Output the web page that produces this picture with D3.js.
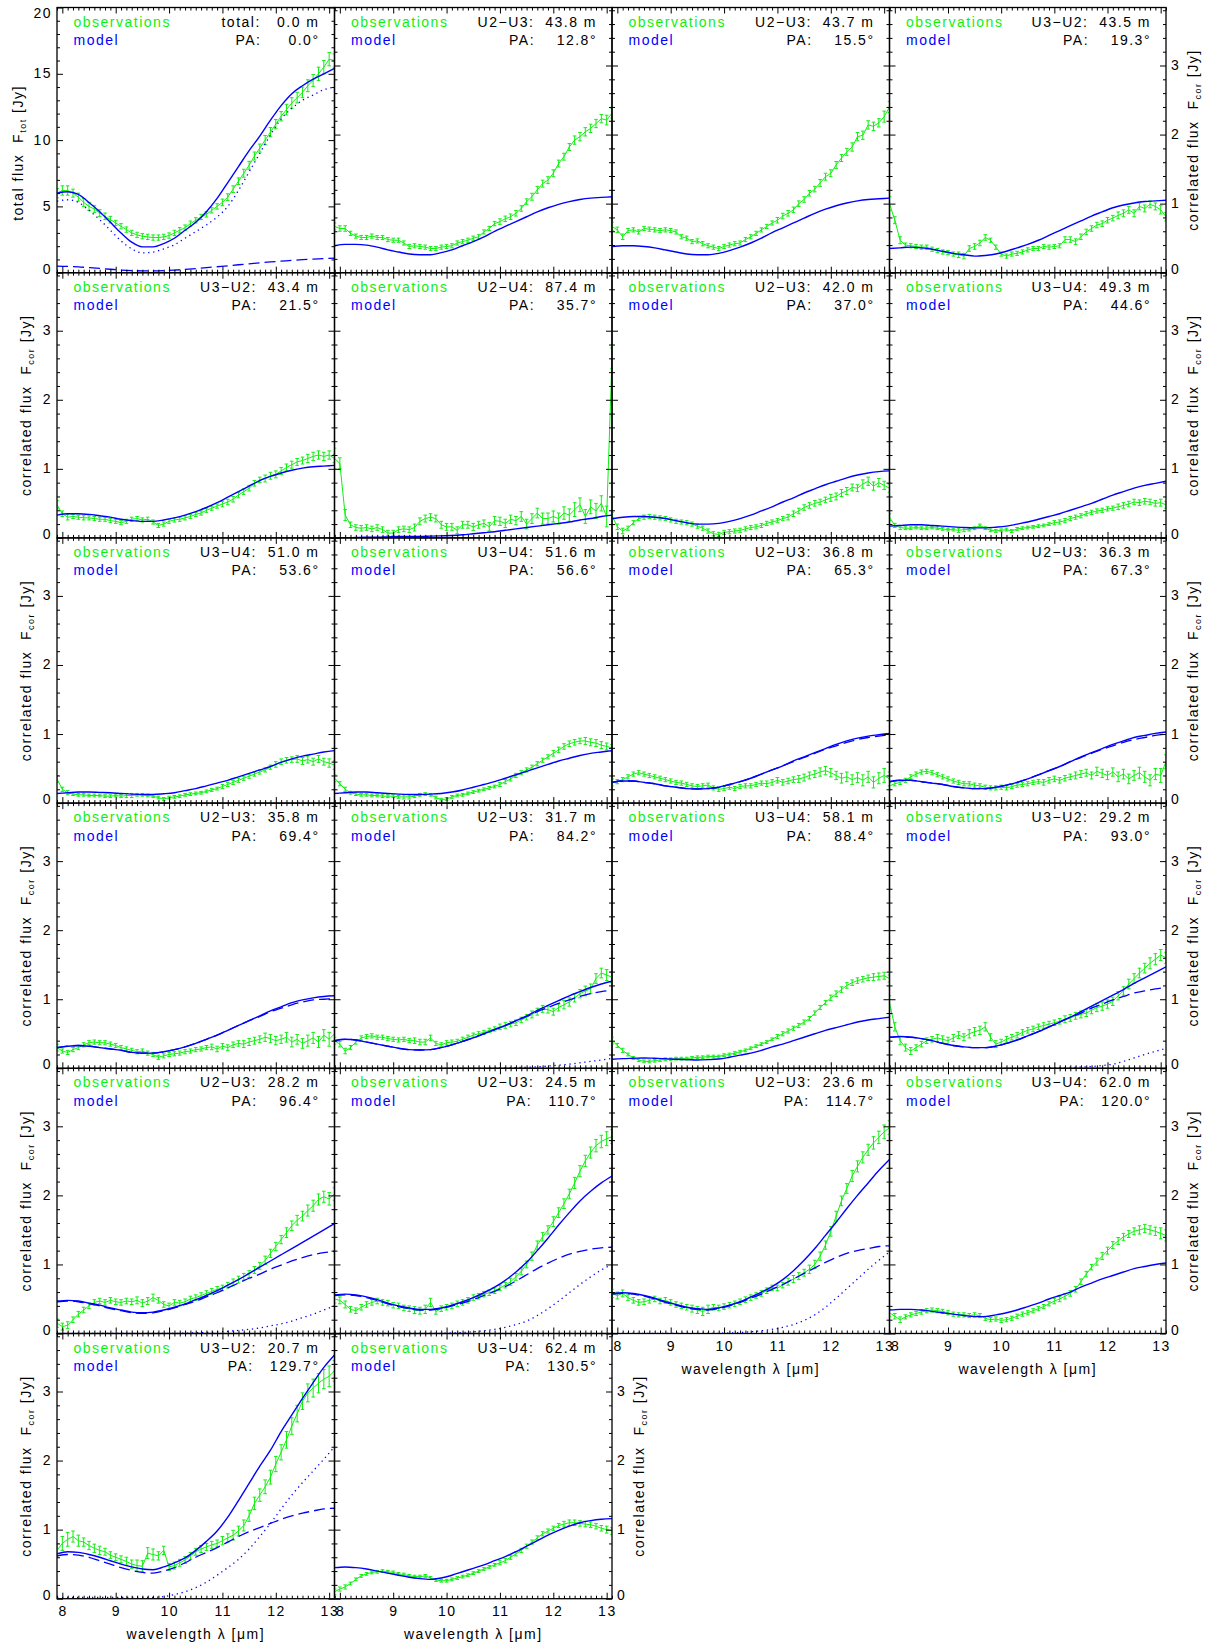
<!DOCTYPE html>
<html><head><meta charset="utf-8">
<script src="https://cdn.jsdelivr.net/npm/d3@7"></script>
<style>body{margin:0;background:#fff}svg{display:block}text{font-family:"Liberation Sans",Arial,Helvetica,sans-serif}</style>
</head><body>
<script>
// ---------- wavelength grids (µm) ----------
const wlObs = [7.9,8.0,8.1,8.2,8.3,8.4,8.5,8.6,8.7,8.8, 8.9,9.0,9.1,9.2,9.3,9.4,9.5,9.6,9.7,9.8, 9.9,10.0,10.1,10.2,10.3,10.4,10.5,10.6,10.7,10.8, 10.9,11.0,11.1,11.2,11.3,11.4,11.5,11.6,11.7,11.8, 11.9,12.0,12.1,12.2,12.3,12.4,12.5,12.6,12.7,12.8, 12.9,13.0,13.1];
const wlModel = [7.9,8.1,8.3,8.5,8.7,8.9,9.1,9.3,9.5,9.7,9.9,10.1,10.3,10.5,10.7,10.9,11.1,11.3,11.5,11.7,11.9,12.1,12.3,12.5,12.7,12.9,13.1];

// ---------- panel labels ----------
const pairs = ["total","U2−U3","U2−U3","U3−U2","U3−U2","U2−U4","U2−U3","U3−U4","U3−U4","U3−U4","U2−U3","U2−U3","U2−U3","U2−U3","U3−U4","U3−U2","U2−U3","U2−U3","U2−U3","U3−U4","U3−U2","U3−U4"];
const baselineLength = [0.0,43.8,43.7,43.5,43.4,87.4,42.0,49.3,51.0,51.6,36.8,36.3,35.8,31.7,58.1,29.2,28.2,24.5,23.6,62.0,20.7,62.4];
const positionAngle = [0.0,12.8,15.5,19.3,21.5,35.7,37.0,44.6,53.6,56.6,65.3,67.3,69.4,84.2,88.4,93.0,96.4,110.7,114.7,120.0,129.7,130.5];

// ---------- tick labels ----------
const xTickLabels = [8,9,10,11,12,13];
const totTickLabels = [0,5,10,15,20];
const corTickLabels = [0,1,2,3];

// ---------- observations (Jy) on wlObs ----------
const obs01 = [6.0,6.2,6.2,6.0,5.7,5.3,5.0,4.8,4.5,4.25, 4.0,3.75,3.5,3.25,3.0,2.85,2.75,2.7,2.65,2.65, 2.7,2.8,3.0,3.2,3.4,3.7,3.95,4.2,4.4,4.7, 5.0,5.3,5.7,6.3,6.9,7.5,8.1,8.8,9.4,10.0, 10.6,11.2,11.8,12.3,12.8,13.2,13.6,14.1,14.5,15.0, 15.5,16.1,16.0];
const obs02 = [0.67,0.64,0.64,0.57,0.53,0.51,0.51,0.53,0.51,0.51, 0.48,0.47,0.47,0.43,0.38,0.39,0.38,0.37,0.35,0.35, 0.37,0.38,0.39,0.43,0.45,0.47,0.50,0.52,0.59,0.64, 0.71,0.74,0.78,0.81,0.86,0.93,1.03,1.10,1.20,1.29, 1.34,1.44,1.58,1.68,1.82,1.92,1.97,2.04,2.09,2.16, 2.23,2.21,2.31];
const obs03 = [0.67,0.62,0.52,0.61,0.62,0.59,0.64,0.63,0.62,0.61, 0.62,0.61,0.59,0.52,0.50,0.45,0.46,0.42,0.39,0.37, 0.35,0.38,0.40,0.42,0.43,0.48,0.52,0.57,0.62,0.67, 0.72,0.76,0.82,0.86,0.91,1.00,1.06,1.15,1.21,1.30, 1.39,1.44,1.56,1.66,1.75,1.82,1.97,1.99,2.14,2.12, 2.17,2.26,2.40];
const obs04 = [1.00,0.76,0.47,0.40,0.39,0.38,0.37,0.37,0.34,0.32, 0.30,0.29,0.27,0.26,0.24,0.35,0.38,0.43,0.51,0.47, 0.37,0.27,0.24,0.27,0.28,0.30,0.33,0.35,0.35,0.38, 0.37,0.38,0.39,0.48,0.48,0.45,0.52,0.59,0.64,0.69, 0.71,0.76,0.79,0.83,0.86,0.91,0.86,0.96,0.93,0.99, 0.96,0.91,0.81];
const obs05 = [0.48,0.35,0.30,0.31,0.30,0.29,0.29,0.28,0.27,0.27, 0.25,0.24,0.22,0.24,0.27,0.28,0.26,0.27,0.23,0.18, 0.20,0.24,0.26,0.27,0.29,0.31,0.34,0.36,0.40,0.43, 0.46,0.49,0.52,0.56,0.62,0.67,0.72,0.79,0.84,0.86, 0.90,0.92,0.97,1.02,1.06,1.10,1.12,1.15,1.18,1.20, 1.18,1.20,1.15];
const obs06 = [1.15,1.08,0.33,0.19,0.15,0.14,0.15,0.13,0.15,0.12, 0.07,0.07,0.12,0.13,0.12,0.15,0.24,0.28,0.30,0.28, 0.19,0.16,0.16,0.11,0.19,0.19,0.16,0.19,0.21,0.16, 0.25,0.24,0.21,0.27,0.25,0.31,0.20,0.28,0.36,0.28, 0.28,0.31,0.28,0.36,0.33,0.41,0.48,0.31,0.45,0.39, 0.50,0.31,2.60];
const obs07 = [0.32,0.16,0.10,0.14,0.22,0.28,0.30,0.31,0.30,0.29, 0.28,0.26,0.24,0.23,0.22,0.20,0.17,0.14,0.10,0.06, 0.05,0.08,0.09,0.10,0.11,0.13,0.15,0.16,0.18,0.21, 0.23,0.25,0.28,0.30,0.35,0.39,0.44,0.47,0.50,0.52, 0.55,0.58,0.60,0.65,0.68,0.73,0.72,0.78,0.82,0.75, 0.80,0.76,0.72];
const obs08 = [0.30,0.18,0.15,0.14,0.14,0.15,0.14,0.14,0.15,0.14, 0.13,0.12,0.12,0.11,0.12,0.12,0.14,0.18,0.14,0.11, 0.10,0.11,0.12,0.10,0.13,0.14,0.15,0.16,0.17,0.18, 0.20,0.22,0.23,0.25,0.28,0.30,0.32,0.35,0.37,0.39, 0.40,0.42,0.43,0.45,0.47,0.49,0.52,0.51,0.53,0.52, 0.50,0.51,0.48];
const obs09 = [0.35,0.20,0.15,0.13,0.12,0.12,0.11,0.11,0.11,0.10, 0.10,0.11,0.10,0.11,0.11,0.12,0.12,0.11,0.10,0.08, 0.06,0.08,0.09,0.10,0.12,0.13,0.14,0.15,0.17,0.19, 0.21,0.24,0.27,0.30,0.33,0.36,0.39,0.42,0.45,0.48, 0.52,0.56,0.60,0.62,0.63,0.64,0.61,0.63,0.60,0.64, 0.60,0.58,0.55];
const obs10 = [0.36,0.28,0.20,0.15,0.13,0.12,0.12,0.11,0.11,0.10, 0.10,0.10,0.09,0.09,0.09,0.10,0.12,0.13,0.12,0.08, 0.05,0.06,0.09,0.11,0.12,0.14,0.16,0.18,0.20,0.22, 0.24,0.27,0.31,0.35,0.40,0.44,0.48,0.52,0.57,0.62, 0.67,0.72,0.77,0.82,0.86,0.88,0.90,0.90,0.88,0.87, 0.84,0.82,0.80];
const obs11 = [0.30,0.31,0.34,0.38,0.42,0.44,0.42,0.40,0.38,0.36, 0.34,0.32,0.30,0.29,0.27,0.25,0.24,0.25,0.26,0.22, 0.20,0.21,0.23,0.21,0.24,0.25,0.25,0.27,0.29,0.28, 0.30,0.33,0.30,0.32,0.34,0.35,0.37,0.40,0.42,0.45, 0.47,0.44,0.40,0.36,0.38,0.34,0.37,0.33,0.38,0.30, 0.36,0.40,0.35];
const obs12 = [0.25,0.28,0.30,0.33,0.38,0.42,0.45,0.46,0.44,0.41, 0.38,0.35,0.32,0.30,0.28,0.28,0.26,0.25,0.23,0.22, 0.22,0.23,0.22,0.24,0.26,0.27,0.28,0.30,0.31,0.30, 0.33,0.35,0.33,0.36,0.38,0.40,0.42,0.44,0.40,0.46, 0.43,0.40,0.45,0.38,0.42,0.35,0.40,0.44,0.38,0.33, 0.42,0.40,0.60];
const obs13 = [0.30,0.25,0.23,0.27,0.30,0.34,0.37,0.38,0.37,0.37, 0.35,0.33,0.30,0.28,0.26,0.24,0.25,0.22,0.20,0.16, 0.18,0.20,0.21,0.22,0.24,0.25,0.27,0.28,0.30,0.31, 0.28,0.32,0.30,0.34,0.36,0.35,0.38,0.40,0.42,0.45, 0.43,0.40,0.42,0.45,0.38,0.42,0.36,0.40,0.44,0.38, 0.48,0.42,0.50];
const obs14 = [0.40,0.35,0.25,0.30,0.38,0.44,0.46,0.47,0.45,0.45, 0.43,0.42,0.41,0.42,0.40,0.40,0.38,0.38,0.44,0.36, 0.34,0.37,0.38,0.39,0.42,0.45,0.48,0.50,0.52,0.55, 0.57,0.60,0.62,0.64,0.66,0.70,0.74,0.78,0.82,0.86, 0.85,0.82,0.88,0.92,0.96,1.02,1.08,1.12,1.15,1.30, 1.38,1.35,1.32];
const obs15 = [0.40,0.33,0.26,0.20,0.15,0.12,0.10,0.10,0.11,0.12, 0.13,0.13,0.14,0.14,0.14,0.15,0.16,0.16,0.17,0.17, 0.17,0.19,0.20,0.22,0.24,0.26,0.29,0.32,0.35,0.38, 0.42,0.46,0.50,0.54,0.58,0.62,0.67,0.72,0.80,0.88, 0.95,1.02,1.08,1.14,1.20,1.24,1.27,1.29,1.31,1.32, 1.33,1.34,1.30];
const obs16 = [0.95,0.60,0.40,0.30,0.25,0.30,0.35,0.40,0.42,0.44, 0.42,0.40,0.44,0.48,0.45,0.50,0.53,0.55,0.60,0.45, 0.35,0.38,0.42,0.45,0.48,0.52,0.55,0.57,0.60,0.62, 0.64,0.66,0.68,0.71,0.73,0.76,0.78,0.80,0.84,0.88, 0.90,0.93,0.97,1.05,1.12,1.22,1.30,1.38,1.45,1.52, 1.58,1.64,1.60];
const obs17 = [0.15,0.10,0.12,0.20,0.28,0.34,0.40,0.45,0.47,0.45, 0.48,0.46,0.45,0.47,0.46,0.48,0.44,0.47,0.52,0.48, 0.42,0.40,0.45,0.44,0.46,0.50,0.52,0.55,0.58,0.61, 0.64,0.66,0.70,0.74,0.78,0.82,0.86,0.92,0.98,1.06, 1.16,1.26,1.36,1.46,1.56,1.64,1.70,1.78,1.85,1.94, 1.98,1.95,2.02];
const obs18 = [0.50,0.48,0.42,0.35,0.33,0.38,0.42,0.45,0.47,0.45, 0.44,0.41,0.40,0.37,0.36,0.34,0.33,0.35,0.45,0.32, 0.36,0.38,0.40,0.43,0.45,0.48,0.52,0.54,0.57,0.59, 0.62,0.66,0.70,0.75,0.82,0.90,1.00,1.12,1.28,1.40, 1.50,1.62,1.75,1.88,2.02,2.18,2.35,2.50,2.62,2.72, 2.78,2.82,2.85];
const obs19 = [0.58,0.55,0.58,0.52,0.48,0.45,0.46,0.48,0.50,0.47, 0.48,0.45,0.42,0.40,0.38,0.36,0.34,0.32,0.35,0.38, 0.37,0.39,0.41,0.43,0.46,0.49,0.52,0.55,0.58,0.62, 0.66,0.66,0.70,0.75,0.79,0.83,0.88,0.93,1.00,1.12, 1.28,1.48,1.70,1.92,2.10,2.28,2.42,2.55,2.66,2.76, 2.84,2.92,2.98];
const obs20 = [0.30,0.25,0.20,0.24,0.27,0.29,0.31,0.33,0.34,0.33, 0.32,0.30,0.28,0.27,0.27,0.26,0.27,0.26,0.22,0.20, 0.21,0.19,0.20,0.22,0.25,0.28,0.30,0.33,0.36,0.39, 0.43,0.47,0.50,0.54,0.58,0.64,0.75,0.86,0.96,1.04, 1.12,1.20,1.28,1.34,1.40,1.44,1.48,1.50,1.52,1.50, 1.48,1.45,1.42];
const obs21 = [0.70,0.80,0.86,0.90,0.84,0.82,0.77,0.73,0.70,0.68, 0.63,0.60,0.57,0.54,0.50,0.48,0.47,0.66,0.64,0.62, 0.70,0.46,0.48,0.52,0.56,0.62,0.68,0.72,0.75,0.78, 0.80,0.84,0.88,0.92,0.98,1.06,1.20,1.38,1.50,1.62, 1.76,1.95,2.12,2.30,2.50,2.68,2.86,2.98,3.05,3.12, 3.18,3.22,3.30];
const obs22 = [0.10,0.14,0.17,0.22,0.28,0.33,0.36,0.38,0.39,0.40, 0.39,0.38,0.36,0.35,0.33,0.32,0.32,0.33,0.30,0.27, 0.26,0.26,0.28,0.30,0.32,0.34,0.37,0.40,0.43,0.46, 0.49,0.52,0.55,0.60,0.65,0.70,0.76,0.82,0.88,0.94, 0.98,1.02,1.06,1.08,1.10,1.10,1.09,1.08,1.07,1.05, 1.02,1.00,0.98];

// ---------- observation errors (Jy), one value per 0.2 µm band (wlModel) ----------
const err01 = [0.35,0.35,0.3,0.3,0.25,0.25,0.2,0.2,0.2,0.2,0.2,0.2,0.2,0.2,0.2,0.2,0.25,0.25,0.3,0.3,0.35,0.35,0.4,0.4,0.45,0.5,0.5];
const err02 = [0.05,0.04,0.03,0.03,0.03,0.03,0.03,0.03,0.03,0.03,0.03,0.03,0.03,0.03,0.03,0.03,0.04,0.04,0.04,0.05,0.05,0.05,0.05,0.06,0.06,0.06,0.07];
const err03 = [0.06,0.04,0.03,0.03,0.03,0.03,0.03,0.03,0.03,0.03,0.03,0.03,0.03,0.03,0.03,0.03,0.04,0.04,0.04,0.04,0.05,0.05,0.05,0.06,0.06,0.06,0.08];
const err04 = [0.1,0.05,0.03,0.03,0.03,0.03,0.03,0.04,0.04,0.04,0.03,0.03,0.03,0.03,0.03,0.03,0.03,0.04,0.04,0.04,0.04,0.04,0.05,0.05,0.05,0.05,0.06];
const err05 = [0.06,0.04,0.03,0.03,0.03,0.03,0.03,0.03,0.03,0.03,0.03,0.03,0.03,0.03,0.03,0.03,0.04,0.04,0.04,0.04,0.05,0.05,0.05,0.05,0.06,0.06,0.06];
const err06 = [0.15,0.08,0.04,0.04,0.04,0.04,0.04,0.04,0.05,0.05,0.05,0.05,0.05,0.05,0.05,0.06,0.06,0.06,0.07,0.07,0.08,0.08,0.09,0.1,0.1,0.11,0.15];
const err07 = [0.05,0.04,0.03,0.03,0.03,0.03,0.03,0.03,0.03,0.03,0.03,0.03,0.03,0.03,0.03,0.03,0.03,0.04,0.04,0.04,0.04,0.05,0.05,0.05,0.06,0.06,0.06];
const err08 = [0.05,0.03,0.02,0.02,0.02,0.02,0.02,0.03,0.02,0.02,0.02,0.02,0.02,0.02,0.02,0.02,0.03,0.03,0.03,0.03,0.03,0.03,0.04,0.04,0.04,0.04,0.05];
const err09 = [0.05,0.03,0.02,0.02,0.02,0.02,0.02,0.03,0.02,0.02,0.02,0.02,0.02,0.02,0.02,0.02,0.03,0.03,0.03,0.03,0.03,0.04,0.04,0.05,0.05,0.05,0.06];
const err10 = [0.05,0.03,0.02,0.02,0.02,0.02,0.02,0.03,0.02,0.02,0.02,0.02,0.02,0.02,0.02,0.02,0.03,0.03,0.03,0.03,0.03,0.04,0.04,0.04,0.05,0.05,0.05];
const err11 = [0.05,0.03,0.03,0.03,0.03,0.03,0.03,0.03,0.03,0.03,0.03,0.03,0.03,0.03,0.03,0.04,0.04,0.04,0.05,0.05,0.06,0.06,0.07,0.07,0.08,0.08,0.1];
const err12 = [0.05,0.03,0.03,0.03,0.03,0.03,0.03,0.03,0.03,0.03,0.03,0.03,0.03,0.03,0.03,0.04,0.04,0.04,0.05,0.05,0.06,0.06,0.07,0.07,0.08,0.08,0.1];
const err13 = [0.05,0.03,0.03,0.03,0.03,0.03,0.03,0.03,0.03,0.03,0.03,0.03,0.03,0.03,0.03,0.04,0.04,0.04,0.05,0.05,0.06,0.06,0.07,0.07,0.08,0.08,0.1];
const err14 = [0.05,0.04,0.03,0.03,0.03,0.03,0.03,0.03,0.04,0.04,0.03,0.03,0.03,0.03,0.03,0.03,0.04,0.04,0.04,0.05,0.05,0.05,0.06,0.06,0.07,0.07,0.08];
const err15 = [0.05,0.03,0.02,0.02,0.02,0.02,0.02,0.02,0.02,0.02,0.02,0.02,0.02,0.02,0.02,0.02,0.03,0.03,0.03,0.03,0.03,0.04,0.04,0.04,0.04,0.05,0.05];
const err16 = [0.1,0.06,0.05,0.04,0.04,0.05,0.05,0.05,0.06,0.06,0.05,0.04,0.04,0.04,0.04,0.04,0.04,0.05,0.05,0.05,0.06,0.06,0.06,0.07,0.07,0.08,0.08];
const err17 = [0.06,0.05,0.04,0.04,0.04,0.04,0.04,0.04,0.05,0.05,0.04,0.04,0.04,0.04,0.04,0.04,0.04,0.05,0.05,0.05,0.06,0.06,0.07,0.07,0.08,0.08,0.09];
const err18 = [0.06,0.05,0.04,0.04,0.04,0.04,0.04,0.04,0.05,0.06,0.04,0.04,0.04,0.04,0.04,0.04,0.04,0.05,0.05,0.06,0.06,0.07,0.07,0.08,0.08,0.09,0.1];
const err19 = [0.06,0.05,0.04,0.04,0.04,0.04,0.04,0.04,0.05,0.06,0.04,0.04,0.04,0.04,0.04,0.04,0.04,0.05,0.05,0.06,0.06,0.07,0.07,0.08,0.08,0.09,0.1];
const err20 = [0.05,0.04,0.03,0.03,0.03,0.03,0.03,0.03,0.03,0.03,0.03,0.03,0.03,0.03,0.03,0.03,0.04,0.04,0.04,0.04,0.05,0.05,0.05,0.05,0.06,0.06,0.08];
const err21 = [0.1,0.1,0.08,0.06,0.06,0.05,0.05,0.06,0.08,0.08,0.06,0.05,0.05,0.05,0.05,0.05,0.06,0.07,0.08,0.09,0.1,0.11,0.12,0.12,0.13,0.14,0.15];
const err22 = [0.04,0.03,0.02,0.02,0.02,0.02,0.02,0.02,0.02,0.02,0.02,0.02,0.02,0.02,0.02,0.02,0.03,0.03,0.03,0.03,0.03,0.03,0.04,0.04,0.04,0.04,0.05];

// ---------- model total (solid), on wlModel ----------
const model01 = [6.0,6.1,5.9,5.3,4.6,3.8,3.0,2.3,1.95,1.95,2.2,2.6,3.2,3.8,4.6,5.6,6.8,8.0,9.2,10.3,11.5,12.6,13.5,14.1,14.6,15.0,15.4];
const model02 = [0.39,0.41,0.41,0.40,0.37,0.33,0.30,0.27,0.26,0.26,0.29,0.33,0.39,0.45,0.52,0.60,0.67,0.74,0.81,0.88,0.94,0.99,1.03,1.06,1.08,1.09,1.10];
const model03 = [0.38,0.39,0.39,0.38,0.36,0.33,0.30,0.27,0.26,0.26,0.28,0.32,0.37,0.43,0.50,0.58,0.65,0.72,0.79,0.86,0.92,0.97,1.01,1.04,1.06,1.07,1.08];
const model04 = [0.35,0.36,0.37,0.36,0.34,0.31,0.28,0.26,0.24,0.25,0.27,0.31,0.36,0.41,0.47,0.54,0.61,0.68,0.75,0.82,0.88,0.94,0.98,1.01,1.03,1.04,1.05];
const model05 = [0.33,0.35,0.35,0.34,0.32,0.30,0.27,0.25,0.24,0.24,0.26,0.29,0.33,0.38,0.44,0.51,0.59,0.67,0.75,0.83,0.89,0.94,0.98,1.01,1.03,1.04,1.05];
const model06 = [0.0,0.0,0.005,0.01,0.01,0.015,0.02,0.02,0.02,0.025,0.03,0.035,0.045,0.06,0.075,0.09,0.11,0.13,0.15,0.17,0.19,0.21,0.23,0.26,0.28,0.31,0.33];
const model07 = [0.28,0.30,0.31,0.31,0.30,0.28,0.25,0.22,0.20,0.20,0.21,0.24,0.28,0.33,0.39,0.45,0.52,0.58,0.65,0.71,0.77,0.82,0.87,0.91,0.94,0.96,0.97];
const model08 = [0.17,0.18,0.19,0.19,0.18,0.17,0.16,0.15,0.145,0.145,0.155,0.17,0.20,0.23,0.27,0.31,0.35,0.40,0.45,0.50,0.56,0.62,0.67,0.72,0.76,0.79,0.82];
const model09 = [0.14,0.15,0.16,0.16,0.155,0.15,0.14,0.13,0.125,0.125,0.135,0.15,0.18,0.21,0.25,0.29,0.33,0.38,0.43,0.48,0.53,0.59,0.64,0.68,0.71,0.74,0.76];
const model10 = [0.14,0.15,0.16,0.16,0.15,0.14,0.13,0.125,0.125,0.13,0.14,0.16,0.19,0.23,0.27,0.31,0.36,0.41,0.46,0.51,0.56,0.61,0.65,0.69,0.72,0.74,0.76];
const model11 = [0.30,0.32,0.32,0.30,0.28,0.25,0.23,0.21,0.205,0.21,0.23,0.27,0.31,0.36,0.42,0.48,0.54,0.61,0.67,0.73,0.79,0.85,0.90,0.94,0.97,0.99,1.01];
const model12 = [0.31,0.33,0.33,0.31,0.29,0.27,0.24,0.22,0.21,0.21,0.23,0.26,0.30,0.35,0.41,0.47,0.53,0.60,0.67,0.73,0.79,0.85,0.90,0.95,0.98,1.01,1.03];
const model13 = [0.30,0.32,0.33,0.32,0.30,0.28,0.26,0.23,0.22,0.22,0.24,0.27,0.31,0.36,0.42,0.48,0.55,0.62,0.69,0.76,0.83,0.89,0.95,0.99,1.02,1.04,1.05];
const model14 = [0.40,0.42,0.41,0.38,0.35,0.32,0.29,0.27,0.265,0.27,0.30,0.34,0.39,0.44,0.50,0.56,0.62,0.69,0.76,0.84,0.91,0.98,1.05,1.11,1.17,1.22,1.26];
const model15 = [0.13,0.14,0.145,0.15,0.145,0.14,0.13,0.125,0.12,0.125,0.135,0.16,0.19,0.22,0.26,0.31,0.35,0.40,0.45,0.50,0.55,0.59,0.63,0.67,0.70,0.72,0.74];
const model16 = [0.45,0.46,0.45,0.43,0.40,0.36,0.33,0.31,0.30,0.30,0.32,0.36,0.41,0.47,0.53,0.60,0.67,0.74,0.82,0.90,0.98,1.06,1.14,1.23,1.31,1.39,1.47];
const model17 = [0.47,0.48,0.47,0.44,0.41,0.37,0.34,0.31,0.30,0.31,0.34,0.38,0.43,0.49,0.55,0.62,0.70,0.78,0.87,0.96,1.05,1.14,1.23,1.32,1.41,1.50,1.59];
const model18 = [0.56,0.57,0.56,0.53,0.49,0.44,0.40,0.37,0.35,0.35,0.37,0.41,0.46,0.52,0.59,0.67,0.77,0.89,1.03,1.20,1.38,1.57,1.75,1.92,2.06,2.18,2.28];
const model19 = [0.58,0.59,0.58,0.55,0.51,0.46,0.42,0.38,0.36,0.35,0.37,0.41,0.46,0.53,0.60,0.68,0.78,0.91,1.06,1.23,1.42,1.61,1.81,2.00,2.18,2.36,2.52];
const model20 = [0.34,0.35,0.35,0.34,0.32,0.30,0.28,0.26,0.245,0.245,0.27,0.30,0.34,0.39,0.44,0.50,0.55,0.60,0.67,0.73,0.79,0.84,0.89,0.94,0.97,1.00,1.02];
const model21 = [0.65,0.68,0.67,0.64,0.60,0.55,0.50,0.46,0.43,0.42,0.46,0.52,0.59,0.70,0.83,0.98,1.18,1.42,1.67,1.92,2.15,2.42,2.66,2.90,3.13,3.35,3.53];
const model22 = [0.45,0.46,0.45,0.43,0.40,0.37,0.34,0.31,0.29,0.28,0.30,0.34,0.39,0.44,0.49,0.55,0.61,0.68,0.76,0.84,0.92,0.99,1.05,1.10,1.13,1.15,1.16];

// ---------- model component 1 (dashed), on wlModel ----------
const dashed01 = [0.5,0.48,0.44,0.38,0.32,0.26,0.2,0.16,0.14,0.14,0.16,0.2,0.25,0.31,0.38,0.45,0.52,0.6,0.67,0.74,0.81,0.87,0.93,0.98,1.02,1.06,1.1];
const dashed11 = [0.30,0.32,0.32,0.30,0.28,0.25,0.23,0.21,0.205,0.21,0.23,0.27,0.31,0.36,0.42,0.48,0.54,0.60,0.66,0.72,0.78,0.83,0.88,0.92,0.95,0.97,0.99];
const dashed12 = [0.31,0.33,0.33,0.31,0.29,0.27,0.24,0.22,0.21,0.21,0.23,0.26,0.30,0.35,0.41,0.47,0.53,0.60,0.66,0.72,0.78,0.83,0.88,0.92,0.95,0.98,1.00];
const dashed13 = [0.30,0.32,0.33,0.32,0.30,0.28,0.26,0.23,0.22,0.22,0.24,0.27,0.31,0.36,0.42,0.48,0.55,0.62,0.69,0.75,0.82,0.87,0.92,0.96,0.99,1.00,1.01];
const dashed14 = [0.40,0.42,0.41,0.38,0.35,0.32,0.29,0.27,0.265,0.27,0.30,0.34,0.39,0.44,0.50,0.56,0.62,0.69,0.75,0.82,0.88,0.94,0.99,1.04,1.08,1.11,1.13];
const dashed16 = [0.45,0.46,0.45,0.43,0.40,0.36,0.33,0.31,0.30,0.30,0.32,0.36,0.41,0.47,0.53,0.60,0.67,0.74,0.80,0.87,0.93,0.99,1.04,1.09,1.12,1.15,1.17];
const dashed17 = [0.46,0.47,0.46,0.43,0.40,0.36,0.33,0.30,0.29,0.30,0.33,0.37,0.42,0.47,0.53,0.59,0.66,0.73,0.80,0.86,0.93,0.99,1.05,1.10,1.14,1.17,1.19];
const dashed18 = [0.55,0.56,0.55,0.52,0.48,0.43,0.39,0.36,0.34,0.34,0.36,0.40,0.44,0.49,0.55,0.61,0.68,0.76,0.85,0.94,1.02,1.09,1.15,1.19,1.22,1.24,1.25];
const dashed19 = [0.57,0.58,0.57,0.54,0.50,0.45,0.41,0.37,0.35,0.34,0.36,0.40,0.45,0.51,0.57,0.64,0.71,0.79,0.87,0.95,1.03,1.10,1.16,1.20,1.23,1.26,1.27];
const dashed21 = [0.62,0.64,0.63,0.60,0.55,0.50,0.45,0.41,0.38,0.37,0.40,0.45,0.52,0.60,0.67,0.74,0.82,0.90,0.97,1.03,1.09,1.15,1.20,1.24,1.27,1.30,1.31];

// ---------- model component 2 (dotted), on wlModel ----------
const dotted01 = [5.4,5.5,5.3,4.7,4.0,3.2,2.4,1.8,1.5,1.55,1.8,2.1,2.6,3.1,3.6,4.2,5.0,6.2,7.6,9.0,10.4,11.6,12.4,13.0,13.4,13.8,14.0];
const dotted14 = [0,0,0,0,0,0,0,0,0,0,0,0,0,0,0,0.003,0.006,0.01,0.015,0.022,0.032,0.045,0.06,0.08,0.1,0.12,0.145];
const dotted16 = [0,0,0,0,0,0,0,0,0,0,0,0,0,0,0.002,0.005,0.008,0.012,0.018,0.026,0.04,0.06,0.1,0.15,0.2,0.245,0.29];
const dotted17 = [0,0,0,0,0,0,0,0,0,0,0,0.002,0.005,0.01,0.015,0.022,0.032,0.045,0.06,0.08,0.11,0.14,0.18,0.23,0.28,0.34,0.40];
const dotted18 = [0,0,0,0,0,0,0,0,0,0,0.003,0.008,0.015,0.025,0.04,0.06,0.09,0.13,0.18,0.26,0.36,0.47,0.59,0.71,0.82,0.92,1.0];
const dotted19 = [0,0,0,0,0,0,0,0,0,0,0.003,0.008,0.015,0.025,0.04,0.06,0.09,0.13,0.19,0.27,0.38,0.51,0.65,0.79,0.93,1.06,1.18];
const dotted21 = [0.02,0.02,0.02,0.02,0.02,0.02,0.02,0.02,0.02,0.02,0.03,0.06,0.10,0.16,0.24,0.34,0.45,0.57,0.72,0.90,1.09,1.30,1.50,1.68,1.85,2.02,2.20];

// ---------- assemble ----------
const obsList = [obs01,obs02,obs03,obs04,obs05,obs06,obs07,obs08,obs09,obs10,obs11,obs12,obs13,obs14,obs15,obs16,obs17,obs18,obs19,obs20,obs21,obs22];
const errList = [err01,err02,err03,err04,err05,err06,err07,err08,err09,err10,err11,err12,err13,err14,err15,err16,err17,err18,err19,err20,err21,err22];
const modelList = [model01,model02,model03,model04,model05,model06,model07,model08,model09,model10,model11,model12,model13,model14,model15,model16,model17,model18,model19,model20,model21,model22];
const dashedList = {0:dashed01,10:dashed11,11:dashed12,12:dashed13,13:dashed14,15:dashed16,16:dashed17,17:dashed18,18:dashed19,20:dashed21};
const dottedList = {0:dotted01,13:dotted14,15:dotted16,16:dotted17,17:dotted18,18:dotted19,20:dotted21};

const W = 1211, H = 1644;
const colEdges = [57, 334.5, 612, 889.5, 1166];
const rowEdges = [7.5, 272.7, 537.9, 803.1, 1068.3, 1333.5, 1598.7];
const GREEN = "#10ee10", BLUE = "#0000ff";
const FS = 14, LS = 1.5;

const svg = d3.select("body").append("svg").attr("width", W).attr("height", H);
svg.append("rect").attr("width", W).attr("height", H).attr("fill", "#fff");
const defs = svg.append("defs");

function pad(s, n){ while (s.length < n) s = " " + s; return s; }

const xMinor = d3.range(79, 132).map(v => v/10).filter(v => Math.abs(v - Math.round(v)) > 1e-6);
const corMinor = d3.range(0, 20).map(i => i*0.2).filter(v => Math.abs(v - Math.round(v)) > 1e-6);
const totMinor = d3.range(0, 21).filter(v => v % 5 !== 0);

function styleAxis(g){
  g.select(".domain").remove();
  g.selectAll("line").attr("stroke", "#000").attr("stroke-width", 1);
}

obsList.forEach((obs, k) => {
  const r = Math.floor(k/4), c = k % 4;
  const x0 = colEdges[c], x1 = colEdges[c+1], y0 = rowEdges[r], y1 = rowEdges[r+1];
  const isTot = k === 0;
  const x = d3.scaleLinear().domain([7.9, 13.1]).range([x0, x1]);
  const y = d3.scaleLinear().domain(isTot ? [0, 20] : [0, 3.84]).range([y1, y0]);
  const g = svg.append("g");

  defs.append("clipPath").attr("id", "clip" + k).append("rect")
    .attr("x", x0).attr("y", y0).attr("width", x1 - x0).attr("height", y1 - y0);
  const dg = g.append("g").attr("clip-path", `url(#clip${k})`);

  // observations: connecting line + error bars
  const err = errList[k];
  const pts = wlObs.map((w, i) => ({w, v: obs[i], e: err[Math.min(26, Math.round(i/2))]}));
  dg.append("path").datum(pts)
    .attr("d", d3.line().x(d => x(d.w)).y(d => y(d.v)))
    .attr("fill", "none").attr("stroke", GREEN).attr("stroke-width", 1);
  const eb = d3.path();
  pts.forEach(d => {
    const px = x(d.w), ya = y(d.v - d.e), yb = y(d.v + d.e);
    eb.moveTo(px, ya); eb.lineTo(px, yb);
    eb.moveTo(px - 1.8, ya); eb.lineTo(px + 1.8, ya);
    eb.moveTo(px - 1.8, yb); eb.lineTo(px + 1.8, yb);
  });
  dg.append("path").attr("d", eb.toString()).attr("fill", "none").attr("stroke", GREEN).attr("stroke-width", 1);

  const mline = d3.line().x((d, i) => x(wlModel[i])).y(d => y(d)).curve(d3.curveMonotoneX);
  if (dottedList[k]) dg.append("path").datum(dottedList[k]).attr("d", mline)
    .attr("fill", "none").attr("stroke", BLUE).attr("stroke-width", 1.3).attr("stroke-dasharray", "1.3,3.7");
  if (dashedList[k]) dg.append("path").datum(dashedList[k]).attr("d", mline)
    .attr("fill", "none").attr("stroke", BLUE).attr("stroke-width", 1.3).attr("stroke-dasharray", "11,5");
  dg.append("path").datum(modelList[k]).attr("d", mline)
    .attr("fill", "none").attr("stroke", BLUE).attr("stroke-width", 1.4);

  // ticks (inward on all four sides)
  const yMajor = isTot ? totTickLabels : corTickLabels;
  const yMinor = isTot ? totMinor : corMinor;
  const axes = [
    [d3.axisBottom(x), xTickLabels, xMinor, `translate(0,${y1})`],
    [d3.axisTop(x), xTickLabels, xMinor, `translate(0,${y0})`],
    [d3.axisLeft(y), yMajor, yMinor, `translate(${x0},0)`],
    [d3.axisRight(y), yMajor, yMinor, `translate(${x1},0)`]
  ];
  axes.forEach(([ax, maj, min, tr]) => {
    g.append("g").attr("transform", tr).call(ax.tickValues(maj).tickSize(-6).tickFormat("")).call(styleAxis);
    g.append("g").attr("transform", tr).call(ax.tickValues(min).tickSize(-3).tickFormat("")).call(styleAxis);
  });
  g.append("rect").attr("x", x0).attr("y", y0).attr("width", x1 - x0).attr("height", y1 - y0)
    .attr("fill", "none").attr("stroke", "#000").attr("stroke-width", 1.3);

  // legend + baseline info
  const txt = (tx, ty, s, col, anchor) => g.append("text").attr("x", tx).attr("y", ty)
    .attr("font-size", FS).attr("letter-spacing", LS).attr("fill", col)
    .attr("text-anchor", anchor).style("white-space", "pre").text(s);
  txt(x0 + 16.5, y0 + 19, "observations", GREEN, "start");
  txt(x0 + 16.5, y0 + 37.5, "model", BLUE, "start");
  txt(x1 - 15, y0 + 19, pairs[k] + ": " + pad(baselineLength[k].toFixed(1), 5) + " m", "#000", "end");
  txt(x1 - 15, y0 + 37.5, "PA:  " + pad(positionAngle[k].toFixed(1), 6) + "°", "#000", "end");

  // y tick labels
  const yLab = v => Math.max(y0 + 10.5, Math.min(y(v) + 4.5, y1 + 1));
  const yTitle = (bx, cy) => {
    const t = g.append("text").attr("transform", `translate(${bx},${cy}) rotate(-90)`)
      .attr("font-size", FS).attr("letter-spacing", LS).attr("text-anchor", "middle")
      .style("white-space", "pre").attr("fill", "#000");
    t.append("tspan").text(isTot ? "total flux  F" : "correlated flux  F");
    t.append("tspan").attr("font-size", 9).attr("dy", 3).text(isTot ? "tot" : "cor");
    t.append("tspan").attr("dy", -3).text(" [Jy]");
  };
  if (c === 0) {
    yMajor.forEach(v => g.append("text").attr("x", x0 - 5).attr("y", yLab(v))
      .attr("font-size", FS).attr("letter-spacing", LS).attr("text-anchor", "end").text(v));
    yTitle(isTot ? 23 : 31, isTot ? 153 : (y0 + y1)/2);
  }
  if ((c === 3 && r <= 4) || k === 21) {
    yMajor.forEach(v => g.append("text").attr("x", x1 + 5).attr("y", yLab(v))
      .attr("font-size", FS).attr("letter-spacing", LS).attr("text-anchor", "start").text(v));
    yTitle(x1 + 32, (y0 + y1)/2);
  }

  // x tick labels for bottom panels
  if ([18, 19, 20, 21].includes(k)) {
    xTickLabels.forEach(v => g.append("text").attr("x", x(v) + LS/2).attr("y", y1 + 17.5)
      .attr("font-size", FS).attr("letter-spacing", LS).attr("text-anchor", "middle").text(v));
    g.append("text").attr("x", (x0 + x1)/2).attr("y", y1 + 40.5)
      .attr("font-size", FS).attr("letter-spacing", LS).attr("text-anchor", "middle")
      .style("white-space", "pre").text("wavelength λ [μm]");
  }
});
</script>
</body></html>
